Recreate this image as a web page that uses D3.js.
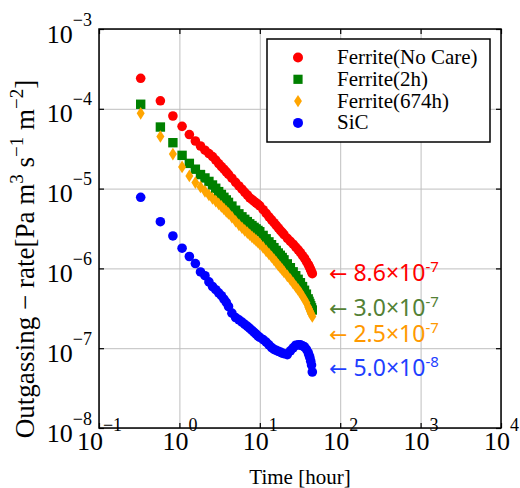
<!DOCTYPE html>
<html>
<head>
<meta charset="utf-8">
<script src="https://cdn.jsdelivr.net/npm/d3@7"></script>
<style>
  body { margin: 0; background: #fff; }
  svg { display: block; }
</style>
</head>
<body>
<div id="chart"></div>
<script>
// measurement times [hour], shared by all series
var times = [0.33, 0.58, 0.83, 1.08, 1.33, 1.58, 1.83, 2.08, 2.33, 2.58, 2.83, 3.08, 3.33, 3.58, 3.83, 4.08,
  4.5, 5, 5.5, 6, 6.5, 7, 7.5, 8, 8.5, 9, 9.5, 10, 11, 12, 13, 14, 15, 16, 17, 18, 19, 20,
  22, 24, 26, 28, 30, 32, 34, 36, 38, 40, 41, 42, 43, 44, 45];

// outgassing rate [Pa m3 s-1 m-2]
var noCare = [2.41e-4, 1.26e-4, 8.12e-5, 6.03e-5, 4.76e-5, 3.95e-5, 3.42e-5, 3.03e-5, 2.75e-5, 2.52e-5,
  2.28e-5, 2.06e-5, 1.89e-5, 1.75e-5, 1.62e-5, 1.51e-5, 1.35e-5, 1.20e-5, 1.08e-5, 9.83e-6,
  8.99e-6, 8.31e-6, 7.67e-6, 7.28e-6, 6.93e-6, 6.62e-6, 6.34e-6, 6.09e-6, 5.44e-6, 4.89e-6,
  4.43e-6, 4.06e-6, 3.74e-6, 3.46e-6, 3.21e-6, 3.00e-6, 2.82e-6, 2.65e-6, 2.38e-6, 2.18e-6,
  2.01e-6, 1.85e-6, 1.71e-6, 1.58e-6, 1.45e-6, 1.34e-6, 1.22e-6, 1.12e-6, 1.07e-6, 1.01e-6,
  9.58e-7, 9.06e-7, 8.60e-7];
var ferrite2h = [1.14e-4, 5.91e-5, 3.76e-5, 2.61e-5, 2.07e-5, 1.75e-5, 1.50e-5, 1.36e-5, 1.23e-5, 1.11e-5,
  1.01e-5, 9.17e-6, 8.44e-6, 7.78e-6, 7.22e-6, 6.72e-6, 6.04e-6, 5.36e-6, 4.83e-6, 4.43e-6,
  4.12e-6, 3.86e-6, 3.62e-6, 3.44e-6, 3.27e-6, 3.13e-6, 2.99e-6, 2.88e-6, 2.59e-6, 2.35e-6,
  2.15e-6, 1.98e-6, 1.82e-6, 1.68e-6, 1.56e-6, 1.46e-6, 1.37e-6, 1.28e-6, 1.14e-6, 1.02e-6,
  9.06e-7, 8.10e-7, 7.30e-7, 6.62e-7, 5.92e-7, 5.32e-7, 4.76e-7, 4.15e-7, 3.86e-7, 3.63e-7,
  3.41e-7, 3.21e-7, 3.01e-7];
var ferrite674h = [8.78e-5, 4.50e-5, 2.71e-5, 1.87e-5, 1.44e-5, 1.19e-5, 1.05e-5, 9.25e-6, 8.31e-6, 7.56e-6,
  6.97e-6, 6.45e-6, 5.98e-6, 5.57e-6, 5.19e-6, 4.88e-6, 4.39e-6, 3.90e-6, 3.52e-6, 3.23e-6,
  3.00e-6, 2.81e-6, 2.64e-6, 2.49e-6, 2.36e-6, 2.24e-6, 2.13e-6, 2.03e-6, 1.83e-6, 1.66e-6,
  1.52e-6, 1.40e-6, 1.29e-6, 1.19e-6, 1.10e-6, 1.03e-6, 9.66e-7, 9.06e-7, 8.08e-7, 7.26e-7,
  6.53e-7, 5.93e-7, 5.41e-7, 4.96e-7, 4.48e-7, 4.07e-7, 3.70e-7, 3.28e-7, 3.09e-7, 2.93e-7,
  2.79e-7, 2.64e-7, 2.50e-7];
var sic = [7.78e-6, 3.85e-6, 2.55e-6, 1.79e-6, 1.41e-6, 1.15e-6, 9.02e-7, 8.10e-7, 6.77e-7, 5.93e-7,
  5.41e-7, 4.94e-7, 4.55e-7, 4.12e-7, 3.75e-7, 3.33e-7, 2.75e-7, 2.42e-7, 2.27e-7, 2.12e-7,
  1.99e-7, 1.88e-7, 1.77e-7, 1.67e-7, 1.58e-7, 1.50e-7, 1.42e-7, 1.37e-7, 1.28e-7, 1.19e-7,
  1.10e-7, 1.02e-7, 9.66e-8, 9.38e-8, 9.14e-8, 8.94e-8, 8.71e-8, 8.53e-8, 8.31e-8, 9.25e-8,
  1.01e-7, 1.09e-7, 1.10e-7, 1.10e-7, 1.07e-7, 1.04e-7, 9.68e-8, 8.81e-8, 8.15e-8, 7.60e-8,
  6.86e-8, 6.15e-8, 5.03e-8];

var seriesNames = ['Ferrite(No Care)', 'Ferrite(2h)', 'Ferrite(674h)', 'SiC'];
var seriesShapes = ['circle', 'square', 'diamond', 'circle'];
var seriesColors = ['#ff0000', '#008000', '#ffa500', '#0000ff'];

// final values written at the right end of each curve
var finalMantissa = ['8.6', '3.0', '2.5', '5.0'];
var finalExponent = ['-7', '-7', '-7', '-8'];
var finalColors = ['#ff0000', '#538135', '#ff9900', '#1f3fff'];

var xTickValues = [1e-1, 1e0, 1e1, 1e2, 1e3, 1e4];
var yTickValues = [1e-8, 1e-7, 1e-6, 1e-5, 1e-4, 1e-3];

var W = 520, H = 488;
var pLeft = 99, pRight = 501, pTop = 29, pBottom = 428;
var serif = '"Liberation Serif", "Times New Roman", serif';

var svg = d3.select('#chart').append('svg').attr('width', W).attr('height', H);

var x = d3.scaleLog().domain([1e-1, 1e4]).range([pLeft, pRight]);
var y = d3.scaleLog().domain([1e-8, 1e-3]).range([pBottom, pTop]);

function supText(d) {
  var e = Math.round(Math.log10(d));
  return e < 0 ? '\u2212' + (-e) : String(e);
}

// grid
svg.append('g')
  .attr('transform', 'translate(0,' + pBottom + ')')
  .call(d3.axisBottom(x).tickValues(xTickValues).tickSize(-(pBottom - pTop)).tickFormat(''))
  .call(function (g) {
    g.select('.domain').remove();
    g.selectAll('line').attr('stroke', '#bfbfbf').attr('stroke-width', 1);
  });
svg.append('g')
  .attr('transform', 'translate(' + pLeft + ',0)')
  .call(d3.axisLeft(y).tickValues(yTickValues).tickSize(-(pRight - pLeft)).tickFormat(''))
  .call(function (g) {
    g.select('.domain').remove();
    g.selectAll('line').attr('stroke', '#bfbfbf').attr('stroke-width', 1);
  });

// data
var allSeries = [noCare, ferrite2h, ferrite674h, sic];

function markerPath(shape, s) {
  if (shape === 'square') {
    return 'M' + (-s) + ',' + (-s) + 'H' + s + 'V' + s + 'H' + (-s) + 'Z';
  }
  if (shape === 'diamond') {
    return 'M0,' + (-s * 1.35) + 'L' + (s * 0.85) + ',0L0,' + (s * 1.35) + 'L' + (-s * 0.85) + ',0Z';
  }
  return d3.symbol().type(d3.symbolCircle).size(Math.PI * s * s)();
}

allSeries.forEach(function (vals, k) {
  var pts = times.map(function (t, i) { return [t, vals[i]]; });
  svg.append('g')
    .selectAll('path')
    .data(pts)
    .join('path')
    .attr('transform', function (d) { return 'translate(' + x(d[0]) + ',' + y(d[1]) + ')'; })
    .attr('d', markerPath(seriesShapes[k], seriesShapes[k] === 'circle' ? 4.8 : 4.7))
    .attr('fill', seriesColors[k]);
});

// frame and inward ticks
svg.append('rect')
  .attr('x', pLeft).attr('y', pTop)
  .attr('width', pRight - pLeft).attr('height', pBottom - pTop)
  .attr('fill', 'none').attr('stroke', '#000').attr('stroke-width', 1.5);

function tickStyle(g) {
  g.select('.domain').remove();
  g.selectAll('line').attr('stroke', '#000').attr('stroke-width', 1.2);
}

var gx = svg.append('g')
  .attr('transform', 'translate(0,' + pBottom + ')')
  .call(d3.axisBottom(x).tickValues(xTickValues).tickSizeInner(-5).tickSizeOuter(0).tickFormat(''))
  .call(tickStyle);
gx.attr('font-family', serif).attr('font-size', 26);
gx.selectAll('.tick text')
  .attr('y', 22).attr('dy', null).attr('fill', '#000')
  .each(function (d) {
    var t = d3.select(this);
    t.append('tspan').text('10');
    t.append('tspan').attr('dy', -19).attr('font-size', 18).text(supText(d));
  });

var gy = svg.append('g')
  .attr('transform', 'translate(' + pLeft + ',0)')
  .call(d3.axisLeft(y).tickValues(yTickValues).tickSizeInner(-5).tickSizeOuter(0).tickFormat(''))
  .call(tickStyle);
gy.attr('font-family', serif).attr('font-size', 26);
gy.selectAll('.tick text')
  .attr('x', -7).attr('y', 13).attr('dy', null).attr('fill', '#000')
  .each(function (d) {
    var t = d3.select(this);
    t.append('tspan').text('10');
    t.append('tspan').attr('dy', -17).attr('font-size', 18).text(supText(d));
  });

svg.append('g')
  .attr('transform', 'translate(0,' + pTop + ')')
  .call(d3.axisTop(x).tickValues(xTickValues).tickSizeInner(-5).tickSizeOuter(0).tickFormat(''))
  .call(tickStyle);
svg.append('g')
  .attr('transform', 'translate(' + pRight + ',0)')
  .call(d3.axisRight(y).tickValues(yTickValues).tickSizeInner(-5).tickSizeOuter(0).tickFormat(''))
  .call(tickStyle);

// axis titles
svg.append('text')
  .attr('x', (pLeft + pRight) / 2).attr('y', 484)
  .attr('text-anchor', 'middle')
  .attr('font-family', serif).attr('font-size', 21)
  .text('Time [hour]');

var yl = svg.append('text')
  .attr('transform', 'translate(34,259) rotate(-90)')
  .attr('text-anchor', 'middle')
  .attr('font-family', serif).attr('font-size', 27);
yl.append('tspan').text('Outgassing \u2212 rate[Pa m');
yl.append('tspan').attr('dy', -11).attr('font-size', 19).text('3');
yl.append('tspan').attr('dy', 11).text(' s');
yl.append('tspan').attr('dy', -11).attr('font-size', 19).text('\u22121');
yl.append('tspan').attr('dy', 11).text(' m');
yl.append('tspan').attr('dy', -11).attr('font-size', 19).text('\u22122');
yl.append('tspan').attr('dy', 11).text(']');

// legend
var lg = svg.append('g').attr('transform', 'translate(267,39)');
lg.append('rect')
  .attr('width', 223).attr('height', 103)
  .attr('fill', '#fff').attr('stroke', '#000').attr('stroke-width', 1.5);
seriesNames.forEach(function (name, k) {
  var cy = 18.5 + k * 21.8;
  lg.append('path')
    .attr('transform', 'translate(31,' + cy + ')')
    .attr('d', markerPath(seriesShapes[k], seriesShapes[k] === 'circle' ? 5 : 4.6))
    .attr('fill', seriesColors[k]);
  lg.append('text')
    .attr('x', 70).attr('y', cy + 6.5)
    .attr('font-family', serif).attr('font-size', 21)
    .text(name);
});

// end-value notes
var noteShift = [-1, -2, 18, -4];
allSeries.forEach(function (vals, k) {
  var cy = y(vals[vals.length - 1]) + noteShift[k];
  var t = svg.append('text')
    .attr('x', 329).attr('y', cy + 8)
    .attr('fill', finalColors[k])
    .attr('font-family', '"Noto Sans", "DejaVu Sans", sans-serif').attr('font-size', 23);
  t.append('tspan').attr('font-family', '"DejaVu Sans", sans-serif').attr('font-size', 22).text('\u2190');
  t.append('tspan').attr('dx', 6).text(finalMantissa[k] + '\u00d710');
  t.append('tspan').attr('dy', -9).attr('font-size', 15).text(finalExponent[k]);
});
</script>
</body>
</html>
